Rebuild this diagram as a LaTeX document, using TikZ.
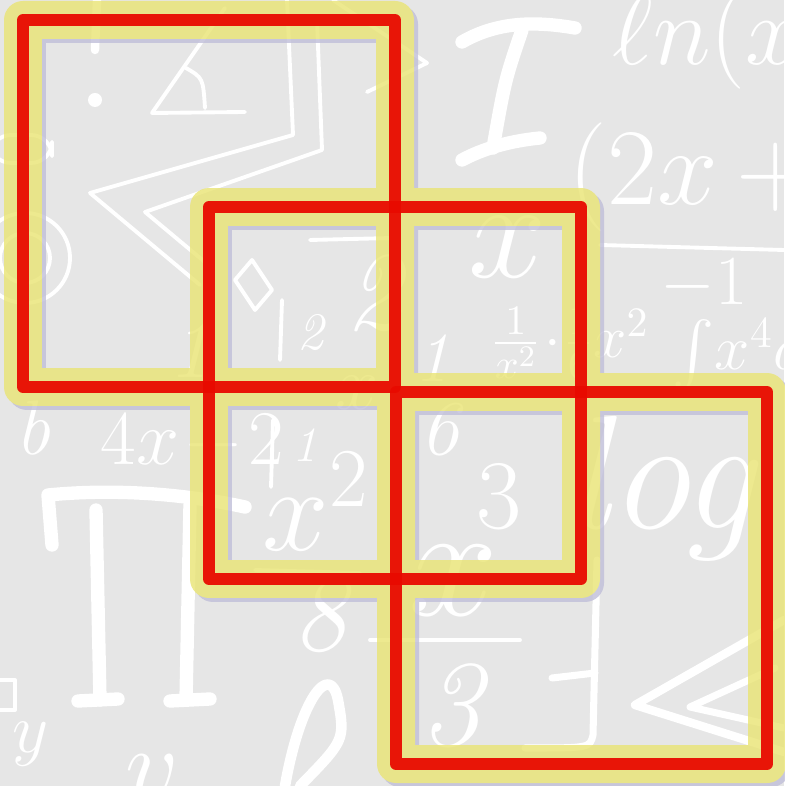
\documentclass[tikz,border=0pt]{standalone}
\usepackage{fix-cm}
\usepackage{amsmath,amssymb}
\usetikzlibrary{calc}

\definecolor{bggray}{HTML}{E6E6E6}
\definecolor{halo}{RGB}{233,228,115}
\definecolor{lavshadow}{RGB}{192,190,217}
\definecolor{frame}{RGB}{232,10,0}

\tikzset{
	chalk/.style={white, line width=1.1pt, line cap=round, line join=round},
	chalkbold/.style={chalk, line width=3.8pt},
	chalktext/.style={white, inner sep=0pt, anchor=base west},
	shadowline/.style={draw=lavshadow, line width=10.8pt, line join=round},
	haloline/.style={draw=halo, line width=10.8pt, line join=round},
	frameline/.style={draw=frame, opacity=0.95, line width=3.4pt, line join=round},
}

\begin{document}
\begin{tikzpicture}[x=0.01cm, y=-0.01cm]
	\useasboundingbox (0,0) rectangle (784,786);
	\clip (0,0) rectangle (784,786);
	\fill[bggray] (0,0) rectangle (784,786);
	% white formulas of the background
	\draw[chalk] (287,0) -- (293,135) -- (90,193) -- (200,285);
	\draw[chalk] (317,20) -- (322,150) -- (145,212) -- (212,268);
	\draw[chalk] (333,0) -- (427,63) -- (367,92);
	\draw[chalk] (225,8) -- (152,113) -- (245,112);
	\draw[chalk] (186,68) .. controls (203,78) .. (205,108);
	\draw[chalk, line width=2.4pt] (97,0) -- (95,50);
	\fill[white] (95,100) circle (7);
	\draw[chalk, rounded corners=6] (-10,135) rectangle (52,163);
	\draw[chalk] (25,258) circle (45);
	\draw[chalk] (25,258) circle (25);
	\draw[chalk] (235,280) -- (252,260) -- (272,290) -- (255,310) -- cycle;
	% big I
	\draw[chalkbold] (462,42) .. controls (500,20) and (540,22) .. (575,28);
	\draw[chalkbold] (522,30) .. controls (505,80) .. (493,148);
	\draw[chalkbold] (462,160) .. controls (490,145) and (520,140) .. (540,138);
	% big pi
	\draw[chalkbold] (52,545) -- (48,495) .. controls (120,488) and (190,495) .. (245,507);
	\draw[chalkbold] (96,510) -- (100,700);
	\draw[chalkbold] (78,701) -- (118,699);
	\draw[chalkbold] (190,505) -- (186,700);
	\draw[chalkbold] (170,701) -- (210,699);
	% loop letter
	\draw[chalkbold, line width=3pt] (285,786) .. controls (300,700) and (330,660) .. (338,700) .. controls (345,740) .. (300,786);
	% fraction lines and bars
	\draw[chalk] (600,245) -- (784,250);
	\draw[chalk] (310,240) -- (392,238);
	\draw[chalk] (282,300) -- (280,360);
	\draw[chalk] (273,420) -- (271,487);
	\draw[chalk] (255,570) -- (360,573);
	\draw[chalk] (370,640) -- (520,640);
	\draw[chalk] (-5,680) rectangle (15,710);
	\draw[chalk, line width=2pt] (552,678) -- (595,673);
	\draw[chalk, line width=2pt] (597,560) -- (593,735) .. controls (590,748) .. (525,748);
	\draw[chalk, line width=2.4pt] (784,620) -- (635,705) -- (784,752);
	\draw[chalk, line width=2pt] (775,668) -- (690,707) -- (784,728);
	% formulas
	\node[chalktext, font=\fontsize{28}{28}\selectfont] (lnx) at (612,65) {$\ell n(x^2$};
	\node[chalktext, font=\fontsize{31}{31}\selectfont] (twox) at (568,205) {$(2x\,+$};
	\node[chalktext, font=\fontsize{40}{40}\selectfont] (xtop) at (468,278) {$x$};
	\node[chalktext, font=\fontsize{20}{20}\selectfont] (mone) at (660,305) {$-1$};
	\node[chalktext, font=\fontsize{17}{17}\selectfont] (frc) at (490,358) {$\frac{1}{x^2}\!\cdot\!\frac{1}{6}x^2$};
	\node[chalktext, font=\fontsize{18}{18}\selectfont] (intx) at (672,370) {$\int\! x^4 dx$};
	\node[chalktext, font=\fontsize{32}{32}\selectfont] (twobig) at (345,330) {\textit{2}};
	\node[chalktext, font=\fontsize{15}{15}\selectfont] (twosmall) at (297,350) {\textit{2}};
	\node[chalktext, font=\fontsize{24}{24}\selectfont] (oneleft) at (168,378) {\textit{1}};
	\node[chalktext, font=\fontsize{22}{22}\selectfont] (bee) at (15,455) {\textit{b}};
	\node[chalktext, font=\fontsize{22}{22}\selectfont] (fourx) at (100,465) {$4x\!-\!2$};
	\node[chalktext, font=\fontsize{14}{14}\selectfont] (onesmall) at (292,462) {\textit{1}};
	\node[chalktext, font=\fontsize{34}{34}\selectfont] (xsq) at (262,550) {$x^2$};
	\node[chalktext, font=\fontsize{22}{22}\selectfont] (xsqmid) at (335,410) {$x$};
	\node[chalktext, font=\fontsize{20}{20}\selectfont] (onemid) at (414,382) {\textit{1}};
	\node[chalktext, font=\fontsize{22}{22}\selectfont] (six) at (420,455) {\textit{6}};
	\node[chalktext, font=\fontsize{28}{28}\selectfont] (three) at (476,528) {3};
	\node[chalktext, font=\fontsize{46}{46}\selectfont] (xbig) at (408,615) {$x$};
	\node[chalktext, font=\fontsize{35}{35}\selectfont] (threelow) at (420,745) {\textit{3}};
	\node[chalktext, font=\fontsize{31}{31}\selectfont] (eight) at (292,650) {\textit{8}};
	\node[chalktext, font=\fontsize{46}{46}\selectfont] (logw) at (568,528) {\textit{log}};
	\node[chalktext, font=\fontsize{20}{20}\selectfont] (why) at (12,752) {$y$};
	\node[chalktext, font=\fontsize{30}{30}\selectfont] (vee) at (125,800) {$v$};
	% the three frames
	\foreach \n/\xa/\ya/\xb/\yb in {1/23/20/395/387, 2/209/207/581/579, 3/396/392/767/764} {
		\coordinate (s\n nw) at (\xa,\ya);
		\coordinate (s\n se) at (\xb,\yb);
	}
	\begin{scope}[transparency group, opacity=0.8]
		\foreach \n in {1,2,3}
			\draw[shadowline] ([shift={(4,4)}]s\n nw) rectangle ([shift={(4,4)}]s\n se);
		\foreach \n in {1,2,3}
			\draw[haloline] (s\n nw) rectangle (s\n se);
	\end{scope}
	\foreach \n in {1,2,3}
		\draw[frameline] (s\n nw) rectangle (s\n se);
\end{tikzpicture}
\end{document}
